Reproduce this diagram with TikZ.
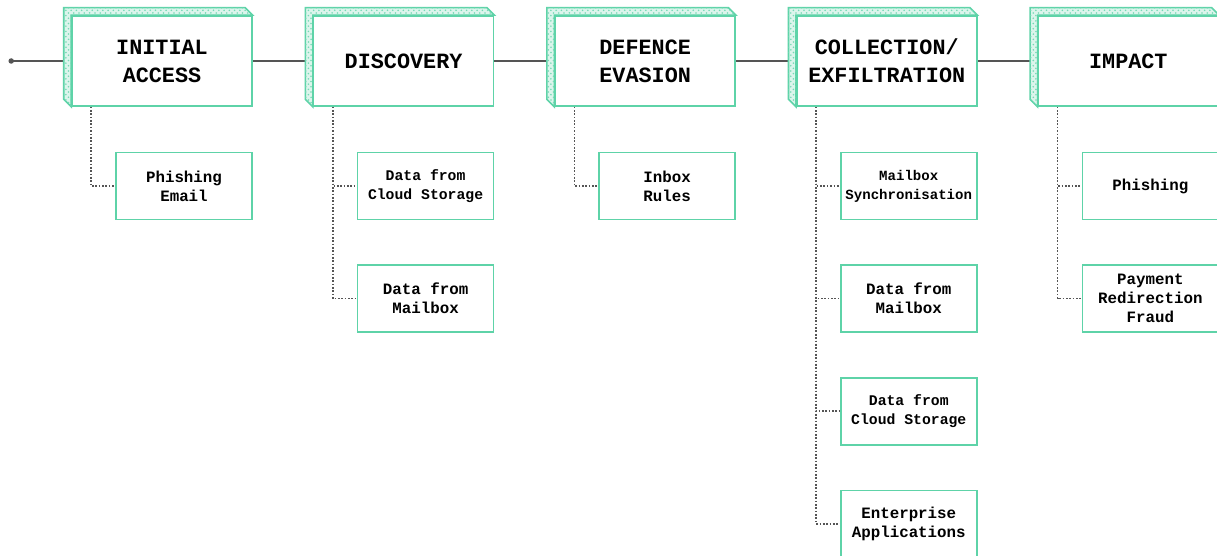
\documentclass[tikz,border=0pt]{standalone}
\usepackage{fontspec}
\setmonofont{Liberation Mono}
\usetikzlibrary{positioning, backgrounds, patterns, calc}
\definecolor{mint}{HTML}{5ED3A8}
\definecolor{wire}{HTML}{555555}

% top and left faces behind a stage box
\newcommand{\extrude}[1]{%
  \path[draw=mint, line width=0.9pt, fill=mint!22,
        postaction={pattern=crosshatch dots, pattern color=mint!85}]
    ([shift={(-0.15,0.15)}]#1.north west) -- ([shift={(-0.15,0.15)}]#1.north east)
    -- (#1.north east) -- (#1.north west) -- (#1.south west)
    -- ([shift={(-0.15,0.15)}]#1.south west) -- cycle;
}

\begin{document}
\begin{tikzpicture}[
    % stage boxes on the main line
    stage/.style={rectangle, draw=mint, line width=0.9pt, fill=white,
      minimum width=3.6cm, minimum height=1.8cm, inner sep=0pt, align=center,
      font=\ttfamily\bfseries\fontsize{12.4}{15.9}\selectfont},
    % technique boxes under a stage
    task/.style={rectangle, draw=mint, line width=0.9pt, fill=white,
      minimum width=2.72cm, minimum height=1.34cm, inner sep=0pt, align=center,
      font=\ttfamily\bfseries\fontsize{9}{10.8}\selectfont},
    link/.style={wire, line width=0.8pt},
    branch/.style={wire, line width=0.95pt, dash pattern=on 0.95pt off 0.95pt}
]
    \useasboundingbox (0,0) rectangle (24.34,-11.12);

    % --- STAGES ---
    \node (access) [stage] at (3.24,-1.22) {INITIAL\\ACCESS};
    \node (discovery) [stage, right=1.2cm of access] {DISCOVERY};
    \node (evasion) [stage, right=1.2cm of discovery] {DEFENCE\\EVASION};
    \node (exfil) [stage, right=1.2cm of evasion] {COLLECTION/\\EXFILTRATION};
    \node (impact) [stage, right=1.2cm of exfil] {IMPACT};
    \coordinate [left=1.2cm of access] (start);

    % --- TECHNIQUES ---
    \node (email) [task, below left=0.9cm and 0cm of access.south east] {Phishing\\Email};

    \node (dcloud) [task, below left=0.9cm and 0cm of discovery.south east,
      font=\ttfamily\bfseries\fontsize{8.4}{10.8}\selectfont] {Data from\\Cloud Storage};
    \node (dmail) [task, below=0.88cm of dcloud] {Data from\\Mailbox};

    \node (rules) [task, below left=0.9cm and 0cm of evasion.south east] {Inbox\\Rules};

    \node (sync) [task, below left=0.9cm and 0cm of exfil.south east,
      font=\ttfamily\bfseries\fontsize{8}{10.8}\selectfont] {Mailbox\\Synchronisation};
    \node (cmail) [task, below=0.88cm of sync] {Data from\\Mailbox};
    \node (ccloud) [task, below=0.88cm of cmail,
      font=\ttfamily\bfseries\fontsize{8.4}{10.8}\selectfont] {Data from\\Cloud Storage};
    \node (apps) [task, below=0.88cm of ccloud] {Enterprise\\Applications};

    \node (phish) [task, below left=0.9cm and 0cm of impact.south east] {Phishing};
    \node (fraud) [task, below=0.88cm of phish] {Payment\\Redirection\\Fraud};

    \begin{scope}[on background layer]
      % --- MAIN LINE ---
      \fill[wire] (start) circle (0.055);
      \draw[link] (start) -- (access);
      \foreach \a/\b in {access/discovery, discovery/evasion, evasion/exfil, exfil/impact}
        \draw[link] (\a) -- (\b);

      % --- BRANCHES ---
      \foreach \s/\t in {access/email, discovery/dcloud, discovery/dmail, evasion/rules,
          exfil/sync, exfil/cmail, exfil/ccloud, exfil/apps, impact/phish, impact/fraud}
        \draw[branch] ([xshift=0.4cm]\s.south west) |- (\t.west);

      \foreach \s in {access, discovery, evasion, exfil, impact}
        {\extrude{\s}}
    \end{scope}
\end{tikzpicture}
\end{document}
